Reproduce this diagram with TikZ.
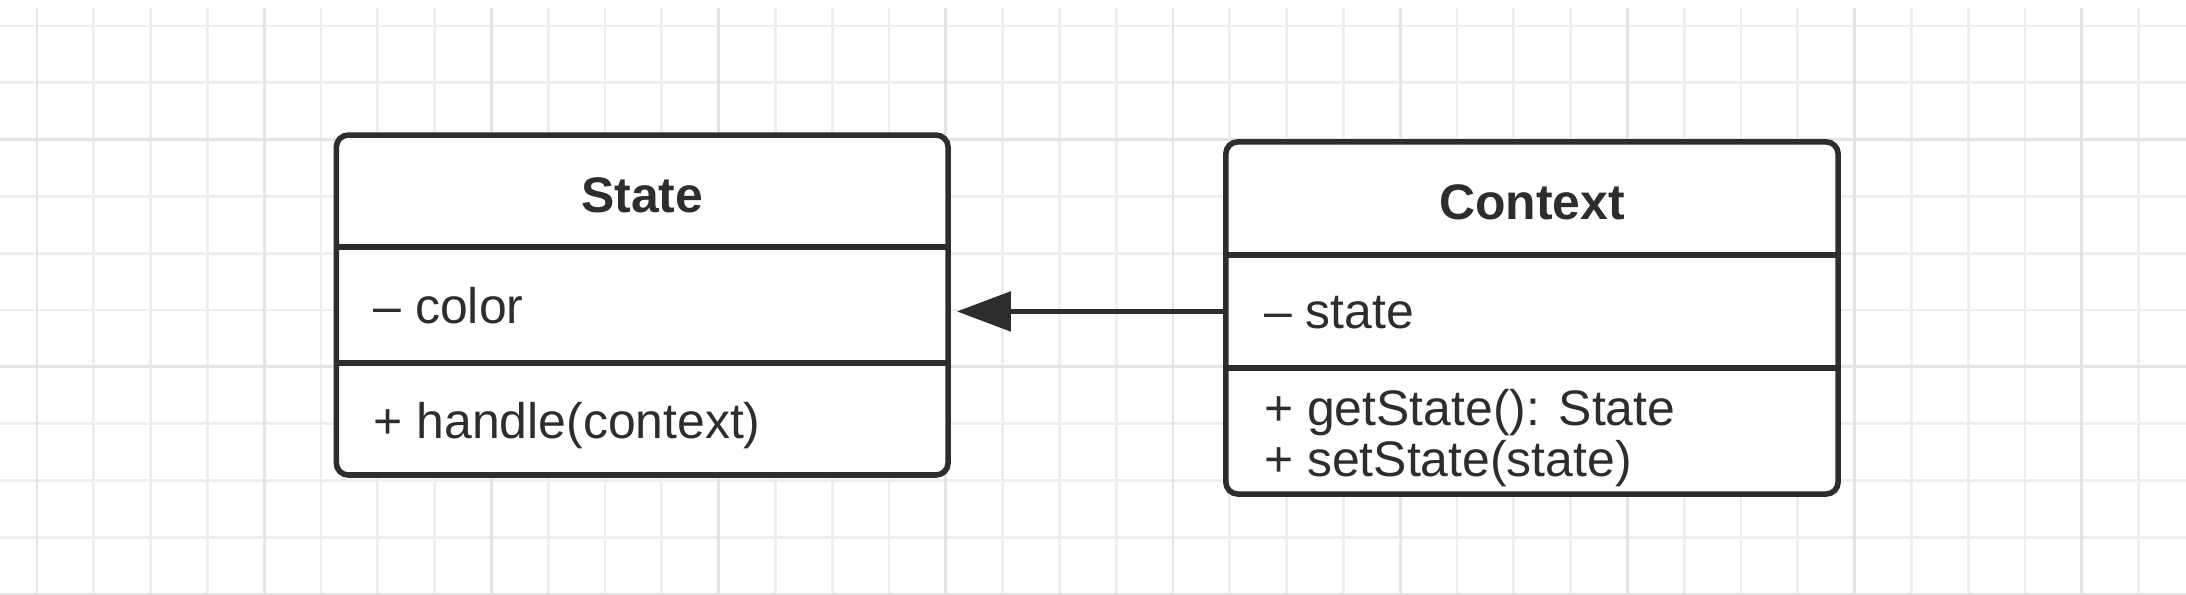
\documentclass[tikz,border=0pt]{standalone}
\usepackage{fontspec}
\setmainfont{Liberation Sans}
\usepackage{tikz}
\usetikzlibrary{arrows.meta}

\definecolor{gridminor}{RGB}{238,238,238}
\definecolor{gridmajor}{RGB}{228,228,228}
\definecolor{linegray}{RGB}{45,45,45}

\tikzset{
  classbox/.style={draw=linegray, line width=2.8pt, rounded corners=6pt, fill=white, inner sep=0pt},
  divider/.style={draw=linegray, line width=2.8pt},
  classname/.style={anchor=base, text=linegray, font=\fontsize{25pt}{25pt}\selectfont\bfseries},
  member/.style={anchor=base west, text=linegray, inner sep=0pt, font=\fontsize{25pt}{25pt}\selectfont},
  assoc/.style={draw=linegray, line width=2.6pt, -{Triangle[length=27pt,width=19.5pt]}, shorten >=3pt}
}

\begin{document}
\begin{tikzpicture}
\useasboundingbox[fill=white] (-0.6514,0) rectangle (37.835,10.458);
\draw[step=1cm,color=gridminor,line width=1.4pt] (-0.6514,0) grid (37.835,10.32);
\draw[step=4cm,color=gridmajor,line width=1.4pt] (-0.6514,0) grid (37.835,10.32);

\node[classbox, minimum width=10.77cm, minimum height=5.985cm] (state) at (10.655,5.0875) {};
\draw[divider] (state.west |- 0,6.11) -- (state.east |- 0,6.11);
\draw[divider] (state.west |- 0,4.07) -- (state.east |- 0,4.07);
\node[classname] (statename) at (10.655,6.708) {State};
\node[member] (statecolor) at (5.92,4.771) {– color};
\node[member] (statehandle) at (5.92,2.746) {+ handle(context)};

\node[classbox, minimum width=10.78cm, minimum height=6.2cm] (context) at (26.32,4.86) {};
\draw[divider] (context.west |- 0,5.97) -- (context.east |- 0,5.97);
\draw[divider] (context.west |- 0,3.98) -- (context.east |- 0,3.98);
\node[classname] (ctxname) at (26.32,6.59) {Context};
\node[member] (ctxstate) at (21.6,4.683) {– state};
\node[member] (ctxget) at (21.6,2.96) {+ getState(): State};
\node[member] (ctxset) at (21.6,2.077) {+ setState(state)};

\coordinate (ctxattr) at (context.west |- 0,4.975);
\draw[assoc] (ctxattr) -- (ctxattr -| state.east);
\end{tikzpicture}
\end{document}
